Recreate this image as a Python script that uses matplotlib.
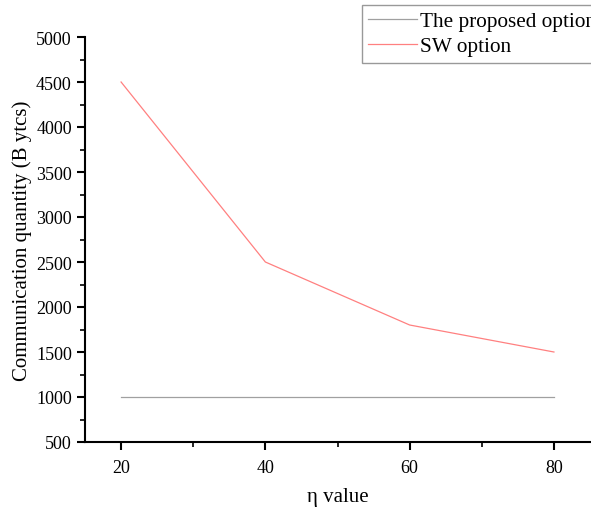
import matplotlib
matplotlib.use("Agg")
import matplotlib.pyplot as plt
from matplotlib.ticker import MultipleLocator

eta = [20, 40, 60, 80]
proposed = [1000, 1000, 1000, 1000]
sw = [4500, 2500, 1800, 1500]

plt.rcParams['font.family'] = ['Liberation Serif', 'DejaVu Serif']

fig = plt.figure(figsize=(5.91, 5.10), dpi=100)
ax = fig.add_axes([85 / 591, 67 / 510, 505 / 591, 405 / 510])

l1, = ax.plot(eta, proposed, color='#a0a0a0', lw=0.9, label='The proposed option')
l2, = ax.plot(eta, sw, color='#ff8080', lw=0.9, label='SW option')

ax.set_xlim(15, 85)
ax.set_ylim(500, 5000)
ax.xaxis.set_major_locator(MultipleLocator(20))
ax.xaxis.set_minor_locator(MultipleLocator(10))
ax.yaxis.set_major_locator(MultipleLocator(500))
ax.yaxis.set_minor_locator(MultipleLocator(250))

for s in ['top', 'right']:
    ax.spines[s].set_visible(False)
for s in ['left', 'bottom']:
    ax.spines[s].set_linewidth(1.5)

ax.tick_params(which='major', direction='out', length=6, width=1.5, labelsize=13)
ax.tick_params(which='minor', direction='out', length=3.5, width=1.2)
ax.tick_params(axis='x', pad=6)

ax.set_xlabel('η value', fontsize=15, labelpad=8)
ax.set_ylabel('Communication quantity (B ytcs)', fontsize=15, labelpad=3)

fig.legend(handles=[l1, l2], loc='upper left', bbox_to_anchor=(362 / 591, 1 - 6 / 510),
           fontsize=15.3, frameon=True, fancybox=False, edgecolor='#808080',
           handlelength=2.3, handletextpad=0.15, borderpad=0.3, labelspacing=0.25,
           borderaxespad=0)

fig.savefig('out.png', dpi=100)
